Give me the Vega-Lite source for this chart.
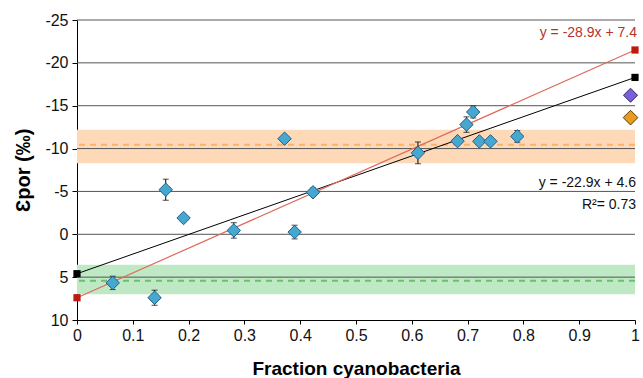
{
  "$schema": "https://vega.github.io/schema/vega-lite/v6.json",
  "width": 558,
  "height": 300,
  "autosize": {"type": "none"},
  "padding": {"left": 77, "top": 20, "right": 8, "bottom": 58},
  "config": {"view": {"stroke": null}, "font": "Liberation Sans"},
  "datasets": {
    "pts": [
      {"x": 0.064, "y": 5.67, "err": 0.78, "g": "Samples"},
      {"x": 0.139, "y": 7.4, "err": 0.88, "g": "Samples"},
      {"x": 0.159, "y": -5.2, "err": 1.23, "g": "Samples"},
      {"x": 0.191, "y": -1.9, "err": 0, "g": "Samples"},
      {"x": 0.281, "y": -0.45, "err": 0.9, "g": "Samples"},
      {"x": 0.372, "y": -11.15, "err": 0, "g": "Samples"},
      {"x": 0.39, "y": -0.26, "err": 0.8, "g": "Samples"},
      {"x": 0.423, "y": -4.9, "err": 0.5, "g": "Samples"},
      {"x": 0.611, "y": -9.5, "err": 1.27, "g": "Samples"},
      {"x": 0.682, "y": -10.87, "err": 0, "g": "Samples"},
      {"x": 0.698, "y": -12.8, "err": 0.9, "g": "Samples"},
      {"x": 0.71, "y": -14.27, "err": 0.7, "g": "Samples"},
      {"x": 0.721, "y": -10.84, "err": 0, "g": "Samples"},
      {"x": 0.741, "y": -10.84, "err": 0, "g": "Samples"},
      {"x": 0.789, "y": -11.42, "err": 0.68, "g": "Samples"},
      {"x": 0.992, "y": -16.22, "err": 0, "g": "Culture A"},
      {"x": 0.992, "y": -13.61, "err": 0, "g": "Culture B"}
    ],
    "fits": [
      {"fit": "black", "x": 0, "y": 4.6},
      {"fit": "black", "x": 1, "y": -18.3},
      {"fit": "red", "x": 0, "y": 7.4},
      {"fit": "red", "x": 1, "y": -21.5}
    ],
    "bands": [
      {"zone": "orange", "lo": -12.2, "hi": -8.3, "mean": -10.45},
      {"zone": "green", "lo": 3.56, "hi": 7.0, "mean": 5.43}
    ],
    "grid": [
      {"v": -25}, {"v": -20}, {"v": -15}, {"v": -10}, {"v": -5}, {"v": 0}, {"v": 5}
    ]
  },
  "layer": [
    {
      "data": {"name": "bands"},
      "transform": [{"filter": "datum.zone == 'orange'"}],
      "mark": {"type": "rect", "color": "#fdd9b8", "opacity": 1},
      "encoding": {
        "x": {"datum": 0, "type": "quantitative", "title": "Fraction cyanobacteria",
          "scale": {"domain": [0, 1], "nice": false, "zero": false},
          "axis": {
            "title": "Fraction cyanobacteria",
            "values": [0, 0.1, 0.2, 0.3, 0.4, 0.5, 0.6, 0.7, 0.8, 0.9, 1],
            "labelExpr": "'' + datum.value",
            "grid": false,
            "labelFlush": false,
            "labelOverlap": false,
            "domainColor": "#000",
            "tickColor": "#000",
            "tickSize": 4,
            "labelPadding": 3,
            "labelFontSize": 16,
            "labelColor": "#111",
            "titleFontSize": 19,
            "titleFontWeight": "bold",
            "titleColor": "#000",
            "titleY": 54,
            "titleBaseline": "alphabetic"
          }
        },
        "x2": {"datum": 1},
        "y": {"field": "lo", "type": "quantitative", "title": "Ɛpor (‰)",
          "scale": {"domain": [-25, 10], "reverse": true, "nice": false, "zero": false},
          "axis": {
            "title": "Ɛpor (‰)",
            "values": [-25, -20, -15, -10, -5, 0, 5, 10],
            "labelExpr": "'' + datum.value",
            "grid": false,
            "domainColor": "#000",
            "tickColor": "#000",
            "tickSize": 5,
            "labelPadding": 4,
            "labelFontSize": 16,
            "labelColor": "#111",
            "titleFontSize": 20,
            "titleFontWeight": "bold",
            "titleColor": "#000",
            "titleX": -48,
            "titleBaseline": "alphabetic"
          }
        },
        "y2": {"field": "hi"}
      }
    },
    {
      "data": {"name": "bands"},
      "transform": [{"filter": "datum.zone == 'green'"}],
      "mark": {"type": "rect", "color": "#bfe9c5", "opacity": 1},
      "encoding": {
        "x": {"datum": 0, "type": "quantitative", "title": "Fraction cyanobacteria"},
        "x2": {"datum": 1},
        "y": {"field": "lo", "type": "quantitative", "title": "Ɛpor (‰)"},
        "y2": {"field": "hi"}
      }
    },
    {
      "data": {"name": "grid"},
      "mark": {"type": "rule", "color": "#555", "strokeWidth": 1},
      "encoding": {"y": {"field": "v", "type": "quantitative", "title": "Ɛpor (‰)"}}
    },
    {
      "data": {"name": "bands"},
      "transform": [{"filter": "datum.zone == 'orange'"}],
      "mark": {"type": "rule", "color": "#f9b36b", "strokeWidth": 2, "strokeDash": [6, 5]},
      "encoding": {"y": {"field": "mean", "type": "quantitative", "title": "Ɛpor (‰)"}}
    },
    {
      "data": {"name": "bands"},
      "transform": [{"filter": "datum.zone == 'green'"}],
      "mark": {"type": "rule", "color": "#6cbf6c", "strokeWidth": 2, "strokeDash": [6, 5]},
      "encoding": {"y": {"field": "mean", "type": "quantitative", "title": "Ɛpor (‰)"}}
    },
    {
      "data": {"name": "fits"},
      "transform": [{"filter": "datum.fit == 'black'"}],
      "mark": {"type": "line", "color": "#000", "strokeWidth": 1},
      "encoding": {
        "x": {"field": "x", "type": "quantitative", "title": "Fraction cyanobacteria"},
        "y": {"field": "y", "type": "quantitative", "title": "Ɛpor (‰)"}
      }
    },
    {
      "data": {"name": "fits"},
      "transform": [{"filter": "datum.fit == 'red'"}],
      "mark": {"type": "line", "color": "#e0695b", "strokeWidth": 1.2},
      "encoding": {
        "x": {"field": "x", "type": "quantitative", "title": "Fraction cyanobacteria"},
        "y": {"field": "y", "type": "quantitative", "title": "Ɛpor (‰)"}
      }
    },
    {
      "data": {"name": "fits"},
      "transform": [{"filter": "datum.fit == 'black'"}],
      "mark": {"type": "point", "shape": "square", "filled": true, "size": 52, "color": "#000", "opacity": 1, "clip": false},
      "encoding": {
        "x": {"field": "x", "type": "quantitative", "title": "Fraction cyanobacteria"},
        "y": {"field": "y", "type": "quantitative", "title": "Ɛpor (‰)"}
      }
    },
    {
      "data": {"name": "fits"},
      "transform": [{"filter": "datum.fit == 'red'"}],
      "mark": {"type": "point", "shape": "square", "filled": true, "size": 52, "color": "#bf1a10", "opacity": 1, "clip": false},
      "encoding": {
        "x": {"field": "x", "type": "quantitative", "title": "Fraction cyanobacteria"},
        "y": {"field": "y", "type": "quantitative", "title": "Ɛpor (‰)"}
      }
    },
    {
      "data": {"name": "pts"},
      "transform": [{"filter": "datum.err > 0"}],
      "mark": {"type": "errorbar", "color": "#000", "thickness": 1, "ticks": {"size": 6, "color": "#000", "thickness": 1}},
      "encoding": {
        "x": {"field": "x", "type": "quantitative", "title": "Fraction cyanobacteria"},
        "y": {"field": "y", "type": "quantitative", "title": "Ɛpor (‰)"},
        "yError": {"field": "err"}
      }
    },
    {
      "data": {"name": "pts"},
      "mark": {"type": "point", "shape": "diamond", "filled": true, "opacity": 1, "strokeWidth": 1},
      "encoding": {
        "x": {"field": "x", "type": "quantitative", "title": "Fraction cyanobacteria"},
        "y": {"field": "y", "type": "quantitative", "title": "Ɛpor (‰)"},
        "fill": {"field": "g", "type": "nominal",
          "scale": {"domain": ["Samples", "Culture A", "Culture B"], "range": ["#46a7cf", "#7a5fd8", "#e99b1d"]},
          "legend": null},
        "stroke": {"field": "g", "type": "nominal",
          "scale": {"domain": ["Samples", "Culture A", "Culture B"], "range": ["#1f5e8c", "#3a2a70", "#5a3a08"]},
          "legend": null},
        "size": {"field": "g", "type": "nominal",
          "scale": {"domain": ["Samples", "Culture A", "Culture B"], "range": [180, 215, 215]},
          "legend": null}
      }
    },
    {
      "data": {"values": [{}]},
      "mark": {"type": "text", "align": "right", "baseline": "middle", "dx": 2, "fontSize": 14, "color": "#b8312a"},
      "encoding": {
        "x": {"datum": 1, "type": "quantitative", "title": "Fraction cyanobacteria"},
        "y": {"datum": -23.5, "type": "quantitative", "title": "Ɛpor (‰)"},
        "text": {"value": "y = -28.9x + 7.4"}
      }
    },
    {
      "data": {"values": [{}]},
      "mark": {"type": "text", "align": "right", "baseline": "middle", "dx": 1, "fontSize": 14, "color": "#111"},
      "encoding": {
        "x": {"datum": 1, "type": "quantitative", "title": "Fraction cyanobacteria"},
        "y": {"datum": -5.95, "type": "quantitative", "title": "Ɛpor (‰)"},
        "text": {"value": "y = -22.9x + 4.6"}
      }
    },
    {
      "data": {"values": [{}]},
      "mark": {"type": "text", "align": "right", "baseline": "middle", "dx": 1, "fontSize": 14, "color": "#111"},
      "encoding": {
        "x": {"datum": 1, "type": "quantitative", "title": "Fraction cyanobacteria"},
        "y": {"datum": -3.42, "type": "quantitative", "title": "Ɛpor (‰)"},
        "text": {"value": "R²= 0.73"}
      }
    }
  ]
}
